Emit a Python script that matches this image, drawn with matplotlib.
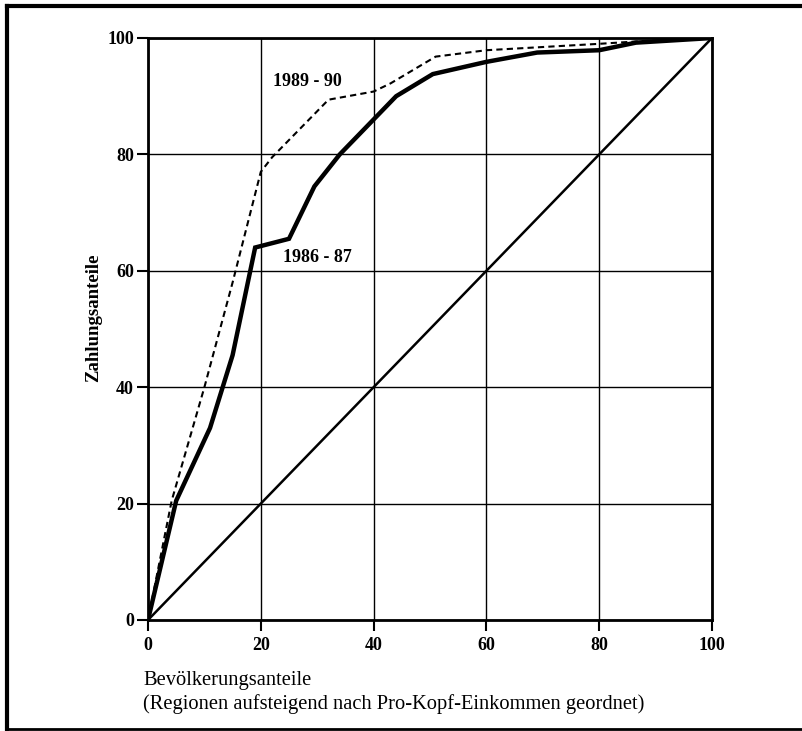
import matplotlib
matplotlib.use("Agg")
import matplotlib.pyplot as plt
from matplotlib.lines import Line2D

plt.rcParams['font.family'] = ['Liberation Serif', 'DejaVu Serif']

# Data
x_8687 = [0, 5, 11, 15, 19, 25, 29.5, 34, 44, 50.5, 60, 69, 80, 86.5, 100]
y_8687 = [0, 20.5, 33, 45.5, 64, 65.5, 74.5, 80, 90, 93.8, 95.9, 97.5, 97.9, 99.2, 100]
x_8990 = [0, 4.2, 10, 15, 20, 22, 32, 40, 43, 51, 60, 80, 86.5, 100]
y_8990 = [0, 20.5, 40, 58, 77, 79.5, 89.4, 90.8, 92.2, 96.8, 97.9, 99, 99.4, 100]
x_equal = [0, 100]
y_equal = [0, 100]
ticks = [0, 20, 40, 60, 80, 100]
label_8687 = "1986 - 87"
label_8990 = "1989 - 90"

fig = plt.figure(figsize=(8.02, 7.31), dpi=100)
ax = fig.add_axes([148/802, 1-620/731, (712-148)/802, (620-38)/731])

ax.plot(x_equal, y_equal, color='black', lw=1.8, solid_capstyle='butt')
ax.plot(x_8687, y_8687, color='black', lw=3.2, solid_joinstyle='miter')
ax.plot(x_8990, y_8990, color='black', lw=1.5, ls=(0, (3, 2)))

ax.set_xlim(0, 100)
ax.set_ylim(0, 100)
ax.set_xticks(ticks)
ax.set_yticks(ticks)
ax.set_xticklabels([str(t) for t in ticks], fontsize=13, fontweight='bold')
ax.set_yticklabels([str(t) for t in ticks], fontsize=13, fontweight='bold')
ax.grid(True, color='black', lw=1.0)
ax.tick_params(direction='out', length=8, width=1.5, colors='black', pad=2)
ax.tick_params(axis='x', pad=4)
for s in ax.spines.values():
    s.set_linewidth(2.0)
    s.set_color('black')

ax.text(28.2, 92.6, label_8990, fontsize=13, fontweight='bold', ha='center', va='center')
ax.text(30.1, 62.3, label_8687, fontsize=13, fontweight='bold', ha='center', va='center')

fig.text(94/802, 1-318/731, "Zahlungsanteile", fontsize=13.5, fontweight='bold',
         rotation=90, ha='center', va='center')
fig.text(143/802, 1-685/731, "Bevölkerungsanteile", fontsize=14.8,
         ha='left', va='baseline')
fig.text(143/802, 1-709/731, "(Regionen aufsteigend nach Pro-Kopf-Einkommen geordnet)",
         fontsize=14.8, ha='left', va='baseline')

# Frame around figure
fig.add_artist(Line2D([7/802, 7/802], [1-6/731, 1-729/731], transform=fig.transFigure, color='black', lw=3))
fig.add_artist(Line2D([7/802, 1], [1-6/731, 1-6/731], transform=fig.transFigure, color='black', lw=3))
fig.add_artist(Line2D([7/802, 1], [1-729/731, 1-729/731], transform=fig.transFigure, color='black', lw=2))

fig.savefig("out.png", dpi=100)
